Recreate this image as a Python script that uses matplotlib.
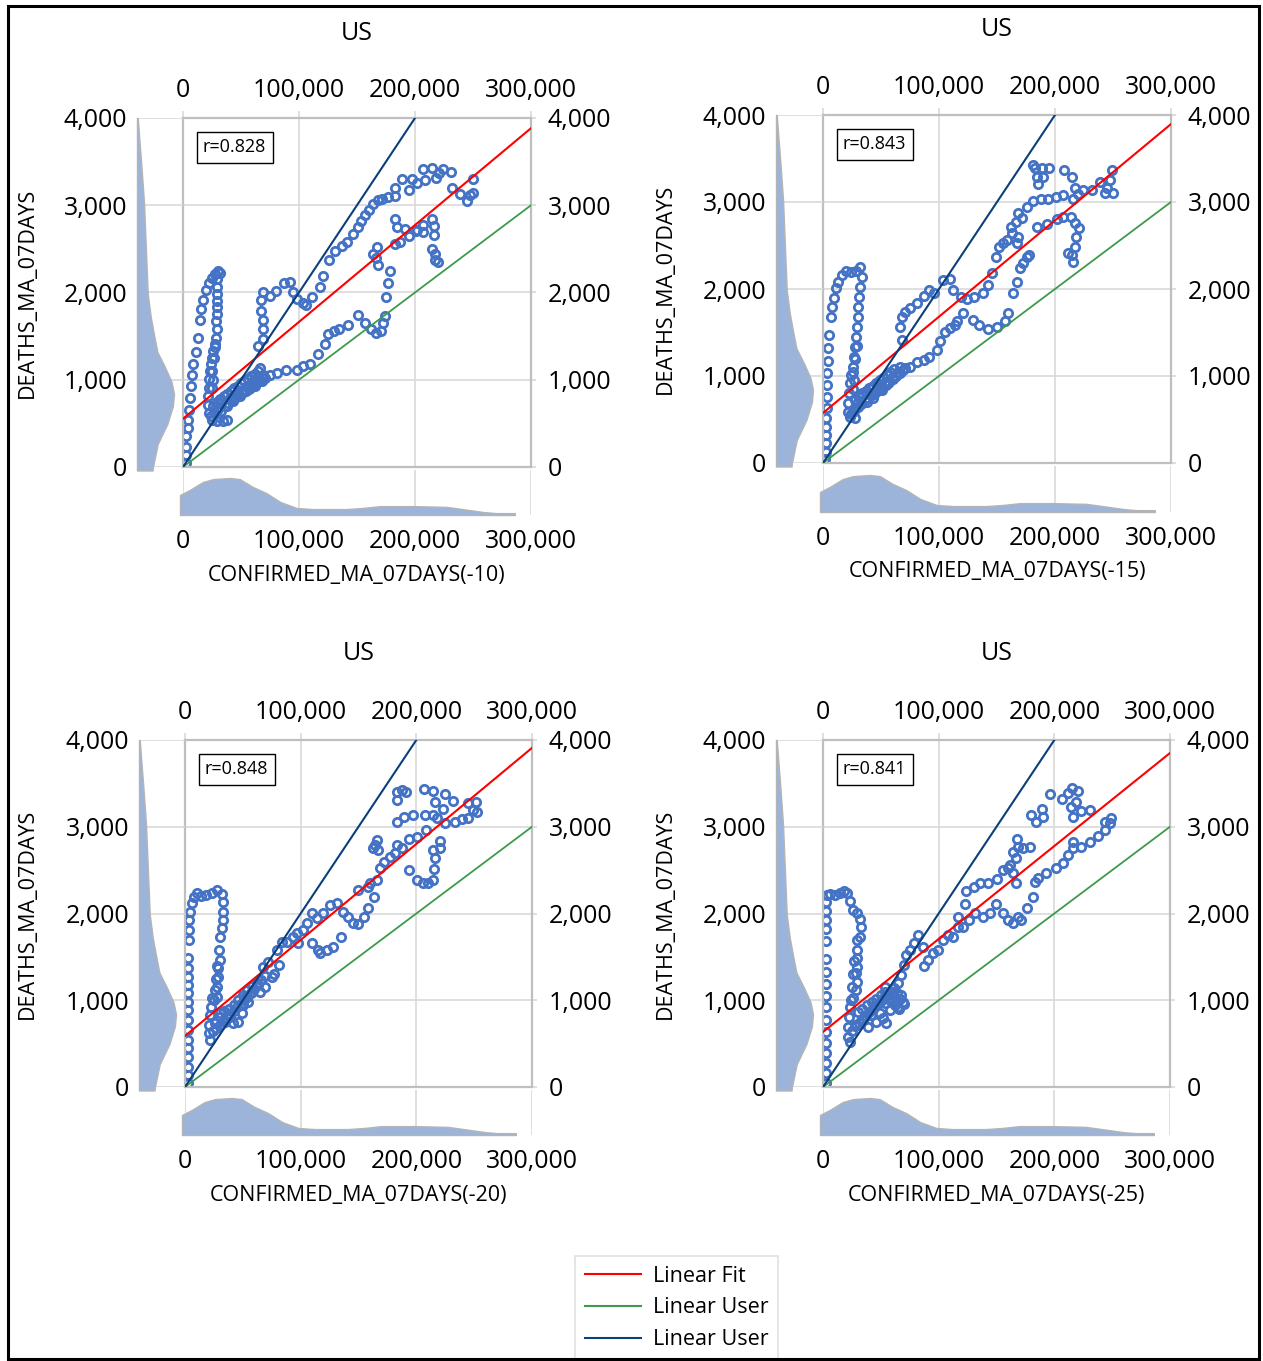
import numpy as np
import matplotlib
matplotlib.use("Agg")
import matplotlib.pyplot as plt
from matplotlib.lines import Line2D
from matplotlib.patches import Rectangle
from matplotlib.ticker import FuncFormatter

plt.rcParams['font.family'] = ['Open Sans', 'DejaVu Sans']

W, H = 1263, 1361

# ---- scatter data: confirmed (thousands, lagged) vs deaths ----
conf_10 = [2.6, 3, 3, 3, 4, 4, 5, 6, 7, 7.5, 9, 11, 12.6, 14.7, 15.5, 17.5, 19.8, 22.4, 25, 27.9, 30.2, 31.9,
           29.6, 29, 29.6, 29, 29.6, 29, 28.4, 29, 28.4, 27.6, 26.1, 24.7, 23.9, 23.3, 22.7, 22.1, 21.8, 21.8, 22.1, 24.7, 29, 34.8, 37.6,
           33.3, 37.6, 40.5, 43.4, 46.3, 49.1, 52, 54.9, 57.8, 60.6, 62.1, 64.9, 66.4, 67.8, 70.7,
           75, 80.7, 88.8, 98, 103.7, 109.5, 116.7, 122.4, 125.3, 130.2, 134.8, 142.5, 150.6, 156.9, 161.8, 166.4, 170.4, 172.7, 174.1, 175,
           176.4, 178.4, 168.4, 166.4, 164.1, 167, 182.8, 187, 195.1, 201.4, 207.2, 214.4, 216.4, 216.7, 214.4, 217.2, 217.2, 220, 182.8, 184.8,
           191.4, 200.9, 207.2,
           64.9, 68.7, 69.3, 69.3, 67.2, 67, 69.3, 75, 79.9, 87.1, 92.2, 95.1, 98, 103.2, 106, 110.9, 118.1, 120.4, 125.9, 131,
           137.1, 141.7, 146.8, 150.6, 153.2, 156.9, 160.6, 164.1, 168.4, 171.8, 176.4, 182.8, 182.8, 188.5, 195.1, 197.1, 202, 208.6, 207.2, 214.9,
           218.1, 220.7, 224.4, 230.7, 232.2, 238.8, 244.5, 247.4, 250.3, 249.7]
deaths_10 = [42, 138, 234, 350, 446, 542, 657, 791, 926, 1049, 1183, 1322, 1483, 1690, 1810, 1909, 2025, 2109, 2163, 2213, 2251, 2224,
             2155, 2059, 1982, 1906, 1829, 1752, 1675, 1579, 1483, 1406, 1329, 1252, 1176, 1099, 1003, 907, 811, 715, 619, 542, 523, 523, 542,
             753, 695, 791, 753, 849, 811, 887, 926, 907, 984, 926, 1041, 1137, 984, 1022,
             1049, 1072, 1110, 1110, 1156, 1176, 1291, 1406, 1521, 1560, 1587, 1629, 1740, 1648, 1579, 1541, 1560, 1648, 1733, 1952,
             2105, 2251, 2317, 2394, 2444, 2520, 2559, 2578, 2647, 2712, 2778, 2839, 2762, 2655, 2501, 2444, 2367, 2347, 2839, 2751,
             2732, 2701, 2693,
             1387, 1464, 1579, 1687, 1790, 1913, 2002, 1963, 2013, 2109, 2117, 2009, 1925, 1875, 1856, 1944, 2059, 2194, 2378, 2474,
             2528, 2578, 2674, 2751, 2816, 2885, 2951, 3020, 3058, 3077, 3089, 3104, 3200, 3296, 3174, 3300, 3250, 3289, 3412, 3431,
             3308, 3366, 3412, 3385, 3193, 3124, 3047, 3116, 3135, 3300]
# dense cluster near the origin
conf_10_dense = [24, 27, 30, 33, 36, 39, 42, 45, 48, 51, 54, 57, 60, 63, 66, 69,
                 26, 29, 32, 35, 38, 41, 44, 47, 50, 53, 56, 59, 62, 65, 25, 26, 25, 27, 28]
deaths_10_dense = [580, 620, 660, 640, 700, 730, 770, 790, 820, 850, 870, 890, 930, 960, 1000, 1050,
                   700, 740, 780, 810, 840, 870, 900, 930, 960, 990, 1010, 1040, 1070, 1100, 900, 1000, 1100, 1250, 1380]

conf_15 = [1.7, 2.3, 2.6, 2.6, 2.6, 2.6, 3.2, 3.7, 3.7, 3.7, 4.3, 4.6, 5.5, 6.6, 7.5, 9.5, 11, 13.2, 16.1, 19.8, 24.1, 28.4, 31.9, 33.3,
           31.9, 31.3, 30.5, 30.5, 29.6, 28.4, 27.6, 26.7, 25.6, 23.9, 23.3, 22.4, 21.8, 21.8, 23.3, 27.6,
           30.5, 33.3, 37.6, 40.5, 43.4, 46.3, 50.6, 53.4, 56.3, 60.6, 63.5, 66.4, 71, 75, 80.7, 87.1, 91.7, 98, 100.9, 105.2,
           109.5, 113.8, 115.8, 121, 129.6, 134.8, 142.5, 149.7, 156.9, 159.8, 164.1, 167.5, 169.8, 172.7, 175.6, 177.9,
           67.8, 66.4, 67.8, 70.7, 75, 80.7, 87.1, 91.7, 95.7, 103.7, 109.5, 111.8, 118.7, 123.9, 130.2, 137.6, 142.5, 145.4, 149.1, 152,
           155.5, 158.9, 162.6, 161.8, 166.4, 168.4, 171.3, 167, 168.4, 176.1, 181.3, 187.6, 194.3, 200.9, 207.2, 215.8, 220.1, 224.4, 231.6, 238.8,
           244.5, 250.3, 243.1, 247.4, 248.9,
           181.3, 182.8, 188.5, 195.1, 189.9, 184.8, 185.3, 207.8, 214.4, 217.2, 184.2, 192.8, 201.4, 207.2, 213.5, 217.2, 220.7, 218.4, 217.2, 214.4,
           215.2, 211.5]
deaths_15 = [42, 130, 226, 322, 418, 513, 628, 762, 896, 1038, 1176, 1318, 1471, 1674, 1797, 1900, 2007, 2084, 2161, 2211, 2199, 2211, 2256, 2142,
             2027, 1912, 1797, 1682, 1567, 1452, 1337, 1222, 1107, 1011, 916, 801, 686, 590, 533, 513,
             705, 782, 705, 801, 743, 877, 839, 935, 916, 992, 1031, 1107, 1088, 1107, 1165, 1184, 1222, 1299, 1406, 1509,
             1548, 1586, 1636, 1728, 1644, 1582, 1536, 1567, 1636, 1720, 1950, 2084, 2237, 2295, 2371, 2391,
             1414, 1567, 1682, 1739, 1778, 1843, 1919, 1988, 1958, 2103, 2111, 1988, 1912, 1881, 1912, 1950, 2046, 2180, 2371, 2486,
             2525, 2563, 2640, 2709, 2766, 2870, 2812, 2525, 2601, 2938, 3015, 3030, 3030, 3053, 3080, 3030, 3092, 3138, 3138, 3233,
             3157, 3107, 3107, 3253, 3368,
             3425, 3387, 3387, 3394, 3283, 3283, 3207, 3368, 3283, 3157, 2716, 2747, 2800, 2831, 2824, 2755, 2697, 2601, 2486, 2391,
             2314, 2410]
conf_15_dense = [24, 27, 30, 33, 36, 39, 42, 45, 48, 51, 54, 57, 60, 63, 66, 69,
                 28, 31, 34, 37, 40, 43, 46, 49, 52, 55, 58, 61, 26, 27, 26, 28, 29]
deaths_15_dense = [560, 600, 640, 680, 720, 750, 780, 810, 840, 870, 900, 930, 960, 1000, 1030, 1070,
                   720, 760, 800, 830, 860, 890, 920, 950, 980, 1010, 1050, 1080, 850, 950, 1050, 1200, 1350]

conf_20 = [2.9, 2.9, 2.9, 2.9, 2.9, 2.9, 2.9, 2.9, 2.9, 2.9, 2.9, 2.9, 2.9, 2.9, 2.9, 3.7, 3.7, 3.7, 4.3, 5.8, 7.8, 10.1, 13.5, 18.2, 23.1, 28, 31.7, 32.6,
           33.1, 32.6, 31.7, 30.3, 29.7, 30.3, 28.8, 28.8, 28, 28, 23.1, 22.2, 21.6, 21, 21, 21.6,
           25.9, 30.3, 34.6, 38.9, 41.8, 46.1, 49, 50.4, 51.9, 54.8, 57.6, 62, 64.8, 69.2, 67.7, 72.1, 74.9, 76.9, 81.3, 79.3,
           83.6, 88, 93.7, 96.5, 98, 102.3, 105.2, 109.5, 113.8, 109.5, 115.3, 116.7, 122.5, 128.2, 134.6, 119, 125.4, 131.1, 136.9, 141.2,
           145, 149.9, 154.8, 158.5, 163.3, 158.5, 149.9, 160, 165.7, 168.6, 172.1, 177.3, 181.6, 183, 187.3, 193.9, 200.9, 208.4,
           193.9, 200.2, 205.5, 210.4, 214.1, 215.3, 216.1, 214.7, 220.5, 220.5, 164.3, 165.7, 167.1, 162.8, 183, 189.3, 196.8, 207.5, 183, 183,
           187.3, 191.1, 206.6, 214.7, 225.2, 231.8, 216.1, 222.9, 214.7, 217.6, 224.8, 233.7, 239.2, 245, 245, 249.3, 251.6, 252.2]
deaths_20 = [42, 138, 234, 350, 446, 542, 657, 772, 887, 984, 1080, 1176, 1272, 1368, 1483, 1694, 1810, 1925, 2021, 2117, 2194, 2232, 2201, 2213, 2240, 2271, 2224, 2136,
             2021, 1925, 1829, 1733, 1579, 1464, 1368, 1272, 1156, 1041, 1022, 926, 830, 715, 619, 542,
             734, 811, 753, 811, 734, 753, 849, 945, 1041, 984, 1099, 1195, 1099, 1156, 1387, 1445, 1272, 1302, 1406, 1579,
             1675, 1675, 1733, 1771, 1656, 1810, 1886, 2002, 1944, 1656, 1579, 1541, 1579, 1617, 1733, 2002, 2098, 2117, 2021, 1963,
             1886, 1879, 1963, 2059, 2194, 2309, 2271, 2347, 2386, 2520, 2597, 2655, 2693, 2789, 2751, 2855, 2885, 2962,
             2501, 2386, 2347, 2347, 2386, 2509, 2636, 2731, 2751, 2835, 2789, 2847, 2732, 2751, 3058, 3116, 3135, 3135, 3308, 3404,
             3423, 3404, 3431, 3416, 3377, 3300, 3289, 3200, 3135, 3097, 3047, 3058, 3085, 3097, 3270, 3193, 3289, 3174]
conf_20_dense = [24, 27, 30, 33, 36, 39, 42, 45, 48, 51, 54, 57, 60, 63, 66, 69,
                 30, 34, 38, 42, 46, 50, 54, 58, 25, 26, 27, 28]
deaths_20_dense = [640, 680, 720, 760, 800, 840, 880, 920, 960, 1000, 1040, 1080, 1130, 1180, 1230, 1280,
                   850, 880, 900, 950, 1000, 1060, 1120, 1170, 1000, 1120, 1250, 1400]

conf_25 = [2.3, 2.3, 2.3, 2.3, 2.3, 2.3, 2.3, 2.3, 2.3, 2.3, 2.3, 2.3, 2.3, 2.3, 2.3, 2.3, 2.9, 3.5, 6.3, 10.1, 14.4, 17.9, 20.7, 23.1, 25.9, 29.4, 32.3, 32.9, 31.7,
           29.7, 29.7, 29.7, 29.7, 28.8, 29.4, 28.8, 25.9, 23.1, 22.5, 21.6, 21.6, 23.1,
           28.8, 34.6, 38.9, 41.8, 46.1, 49, 51.9, 53.3, 54.8, 57.6, 62, 64.8, 67.7, 69.2, 60.5, 53.3, 64.8, 67.7, 69.7, 71.5,
           75, 78.4, 82.1, 86.5, 90.8, 87, 95.1, 99.4, 103.7, 108.1, 112.4, 117.1, 121.3, 126.2, 131.1, 138.3, 144.1, 149.9, 155.6, 160,
           164.3, 168.6, 171.5, 176.7, 181.3, 116.7, 122.5, 123.6, 130.5, 135.7, 142.9, 150.1, 155.6, 160, 164.3, 166.6, 161.7, 166.9, 164.3, 168.6,
           167.7, 173, 178.7,
           183, 185.9, 193.1, 201.2, 207.5, 211.8, 216.1, 216.1, 223.3, 230.5, 237.8, 244.1, 247.8, 243.5, 249.4, 180.1, 184.4, 190.2, 189.6, 196,
           207, 211.8, 215.6, 220.5, 218.5, 214.7, 216.1, 223.3, 230.5]
deaths_25 = [42, 158, 273, 388, 511, 638, 772, 918, 1049, 1187, 1329, 1471, 1687, 1817, 1925, 2032, 2136, 2213, 2224, 2213, 2232, 2263, 2240, 2144, 2040, 2002, 1932, 1848, 1733,
             1694, 1579, 1483, 1387, 1310, 1214, 1118, 1022, 926, 811, 695, 580, 523,
             715, 772, 695, 830, 753, 849, 791, 964, 734, 887, 984, 926, 1060, 984, 1099, 1156, 1195, 1291, 1406, 1521,
             1579, 1656, 1752, 1617, 1464, 1395, 1541, 1579, 1694, 1752, 1733, 1848, 1848, 1925, 2002, 1963, 2002, 2109, 2009, 1925,
             1886, 1963, 1925, 2059, 2194, 1963, 2109, 2263, 2309, 2347, 2347, 2394, 2501, 2520, 2463, 2347, 2559, 2636, 2712, 2770,
             2855, 2751, 2770,
             2367, 2405, 2463, 2520, 2578, 2674, 2751, 2828, 2770, 2828, 2893, 2962, 3039, 3058, 3097, 3135, 3058, 3116, 3200, 3377,
             3316, 3392, 3442, 3416, 3289, 3231, 3108, 3185, 3193]
conf_25_dense = [25, 28, 31, 34, 37, 40, 43, 46, 49, 52, 55, 58, 61, 64, 67, 70,
                 30, 34, 38, 42, 46, 50, 54, 58, 62, 66, 24, 25, 26, 27]
deaths_25_dense = [650, 700, 740, 780, 820, 860, 900, 940, 980, 1020, 1060, 1100, 1140, 1080, 1020, 960,
                   860, 900, 940, 980, 1020, 1060, 1100, 1000, 940, 900, 1000, 1150, 1300, 1450]

x_labels = ["CONFIRMED_MA_07DAYS(-10)", "CONFIRMED_MA_07DAYS(-15)",
            "CONFIRMED_MA_07DAYS(-20)", "CONFIRMED_MA_07DAYS(-25)"]
r_values = ["r=0.828", "r=0.843", "r=0.848", "r=0.841"]

# linear fit (intercept, slope per case) and the two user lines
fit_intercepts = [553, 575, 588, 634]
fit_slopes = [0.01110, 0.01107, 0.01107, 0.01072]
user_green = 0.01
user_blue = 0.02

# marginal densities (relative)
ydens_levels = [-40, 0, 264, 494, 700, 839, 980, 1150, 1320, 1494, 1724, 1989, 2500, 3023, 3500, 3713, 4000]
ydens_vals = [0.42, 0.43, 0.56, 0.82, 0.97, 1.0, 0.93, 0.75, 0.55, 0.47, 0.37, 0.29, 0.24, 0.19, 0.11, 0.07, 0.02]
xdens_conf = [-2.6, 6, 17, 26, 40.5, 49, 60, 72, 84, 98, 112, 141, 155, 170, 198, 227, 241, 259, 270, 286]
xdens_vals = [0.54, 0.68, 0.89, 0.97, 1.0, 0.97, 0.76, 0.59, 0.35, 0.19, 0.16, 0.16, 0.19, 0.24, 0.24, 0.22, 0.16, 0.08, 0.05, 0.05]

series = [(conf_10 + conf_10_dense, deaths_10 + deaths_10_dense),
          (conf_15 + conf_15_dense, deaths_15 + deaths_15_dense),
          (conf_20 + conf_20_dense, deaths_20 + deaths_20_dense),
          (conf_25 + conf_25_dense, deaths_25 + deaths_25_dense)]

# layout in pixels: main (left, top, right, bottom), left density x, bottom density y, title y, xlabel y, ylabel x
layout = [
    dict(main=(183, 118, 531, 467), dl=137, db=515, ty=33, xly=576, ylx=27),
    dict(main=(823, 115, 1171, 463), dl=776, db=512, ty=29, xly=572, ylx=665),
    dict(main=(185, 740, 532, 1087), dl=139, db=1135, ty=653, xly=1196, ylx=27),
    dict(main=(823, 740, 1170, 1087), dl=776, db=1135, ty=653, xly=1196, ylx=665),
]

blue_pts = '#4472c4'
dens_col = '#9cb4d9'
grid_col = '#d9d9d9'
red, green, navy = '#ff0000', '#3d9a4a', '#0b3f7c'
fmt = FuncFormatter(lambda v, p: f"{v:,.0f}")


def rect(l, t, r, b):
    return [l / W, 1 - b / H, (r - l) / W, (b - t) / H]


fig = plt.figure(figsize=(W / 100, H / 100), dpi=100)
fig.patch.set_facecolor('white')

xticks = [0, 100000, 200000, 300000]
yticks = [0, 1000, 2000, 3000, 4000]

for i, L in enumerate(layout):
    l, t, r, b = L['main']
    cx, cy = series[i]
    cx = np.array(cx) * 1000
    cy = np.array(cy)

    # main scatter
    ax = fig.add_axes(rect(l, t, r, b))
    ax.set_xlim(0, 300000)
    ax.set_ylim(0, 4000)
    ax.set_xticks(xticks)
    ax.set_yticks(yticks)
    ax.xaxis.set_major_formatter(fmt)
    ax.yaxis.set_major_formatter(fmt)
    ax.xaxis.tick_top()
    ax.yaxis.tick_right()
    ax.tick_params(axis='x', length=5, color=grid_col, width=1.2, pad=6, labelsize=18)
    ax.tick_params(axis='y', length=3.5, color=grid_col, width=1.2, pad=8.5, labelsize=18)
    ax.grid(color=grid_col, lw=1.2)
    ax.set_axisbelow(True)
    for s in ax.spines.values():
        s.set_color('#bfbfbf')
        s.set_linewidth(1.6)

    ax.plot(cx, cy, 'o', mfc='none', mec=blue_pts, ms=6.0, mew=2.0, zorder=2)
    xs = np.array([0, 300000])
    ax.plot(xs, fit_intercepts[i] + fit_slopes[i] * xs, color=red, lw=1.5, zorder=3)
    ax.plot(xs, user_green * xs, color=green, lw=1.3, zorder=3)
    ax.plot(xs, user_blue * xs, color=navy, lw=1.5, zorder=3)

    ax.text(13 / (r - l) + 0.02, 1 - 13 / (b - t) - 0.021, r_values[i], transform=ax.transAxes,
            ha='left', va='top', fontsize=13,
            bbox=dict(boxstyle='square,pad=0.35', fc='white', ec='black', lw=1))

    # left marginal density (deaths)
    axl = fig.add_axes(rect(L['dl'], t, l, b))
    axl.set_ylim(0, 4000)
    axl.set_xlim(0, (l - L['dl']) / 37)
    axl.set_yticks(yticks)
    axl.yaxis.set_major_formatter(fmt)
    axl.set_xticks([])
    axl.tick_params(axis='y', length=0, pad=7, labelsize=18)
    axl.grid(axis='y', color=grid_col, lw=1.2)
    axl.set_axisbelow(True)
    axl.patch.set_visible(False)
    for s in axl.spines.values():
        s.set_visible(False)
    axl.fill_betweenx(ydens_levels, 0, ydens_vals, facecolor=dens_col, edgecolor='#b4b4b4',
                      lw=1, clip_on=False, zorder=2)

    # bottom marginal density (confirmed)
    axb = fig.add_axes(rect(l, b + 3, r, L['db']))
    axb.set_xlim(0, 300000)
    axb.set_ylim(0, (L['db'] - b - 3) / 37)
    axb.set_xticks(xticks)
    axb.xaxis.set_major_formatter(fmt)
    axb.set_yticks([])
    axb.tick_params(axis='x', length=0, pad=10, labelsize=18)
    axb.grid(axis='x', color=grid_col, lw=1.2)
    axb.set_axisbelow(True)
    axb.patch.set_visible(False)
    for s in axb.spines.values():
        s.set_visible(False)
    axb.fill_between(np.array(xdens_conf) * 1000, 0, xdens_vals, facecolor=dens_col,
                     edgecolor='#b4b4b4', lw=1, clip_on=False, zorder=2)

    # texts
    fig.text((l + r) / 2 / W, 1 - L['ty'] / H, "US", ha='center', va='center', fontsize=18)
    fig.text((l + r) / 2 / W, 1 - L['xly'] / H, x_labels[i], ha='center', va='center', fontsize=15.5)
    fig.text(L['ylx'] / W, 1 - (t + b) / 2 / H, "DEATHS_MA_07DAYS", rotation=90,
             ha='center', va='center', fontsize=15.5)

# legend
handles = [Line2D([], [], color=red, lw=1.5),
           Line2D([], [], color=green, lw=1.5),
           Line2D([], [], color=navy, lw=1.5)]
leg = fig.legend(handles, ["Linear Fit", "Linear User", "Linear User"],
                 loc='upper center', bbox_to_anchor=(676.5 / W, 1 - 1256 / H),
                 fontsize=15.5, frameon=True, fancybox=False, edgecolor=grid_col,
                 handlelength=2.6, handletextpad=0.55, labelspacing=0.5,
                 borderpad=0.45, borderaxespad=0)
leg.get_frame().set_linewidth(1.2)

# outer frame
fig.patches.append(Rectangle((8 / W, 1 - 1359 / H), 1251 / W, 1353 / H, transform=fig.transFigure,
                             fill=False, ec='black', lw=2.2, zorder=10))

fig.savefig("out.png", dpi=100, facecolor='white')
